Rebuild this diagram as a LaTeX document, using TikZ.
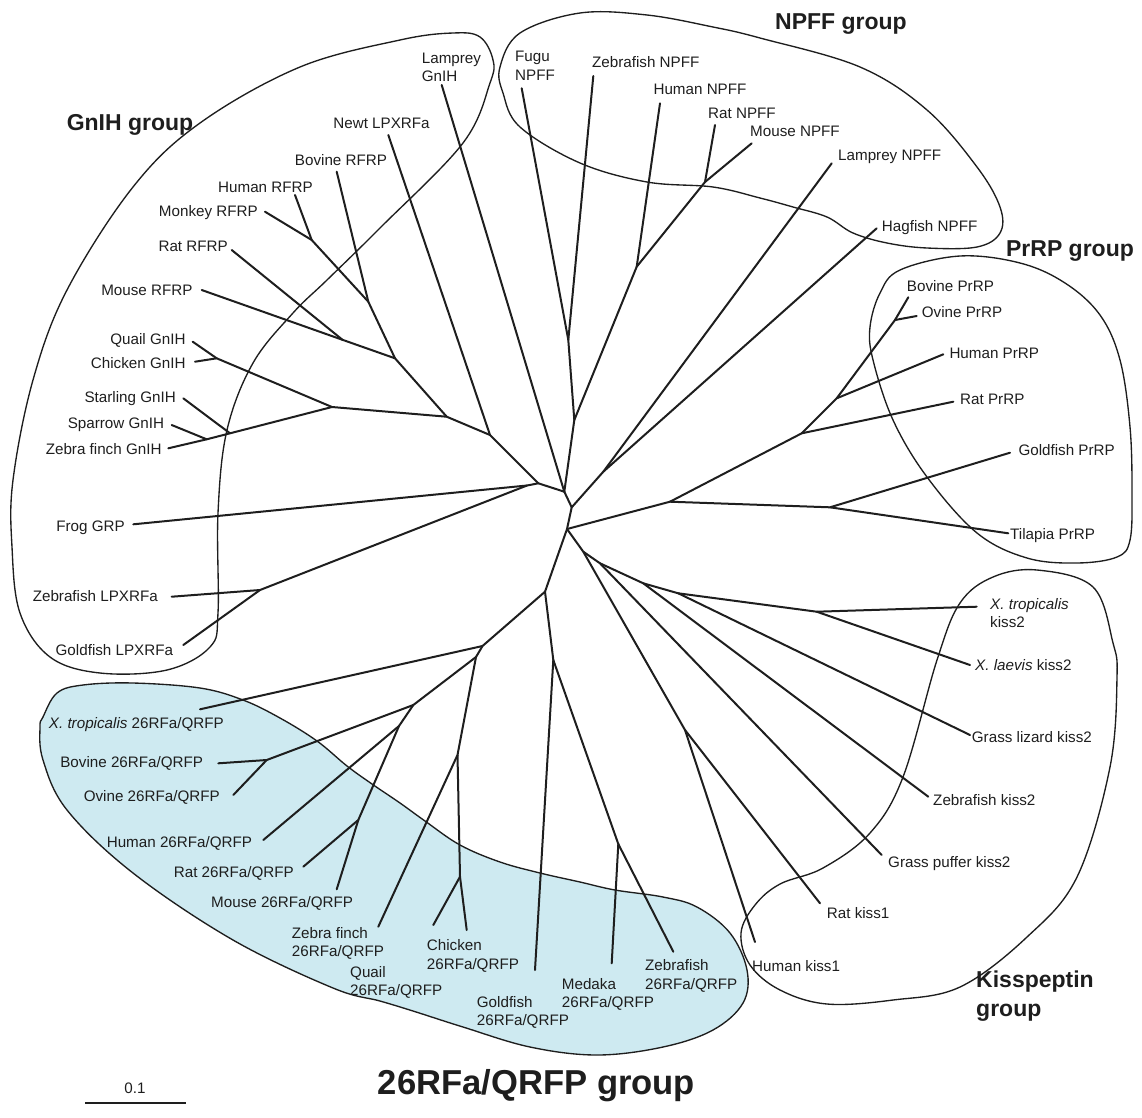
\documentclass[tikz,border=0pt]{standalone}
\usepackage{fontspec}
\setmainfont{Liberation Sans}
\definecolor{blue26}{RGB}{206,234,241}
\definecolor{ink}{RGB}{30,30,30}
\tikzset{
  br/.style={line width=2pt, line cap=round, line join=round, draw=ink},
  grp/.style={line width=1.35pt, draw=ink},
  lab/.style={font=\fontsize{15.2}{18.3}\selectfont, inner sep=0pt, text=ink},
  ttl/.style={font=\fontsize{23}{29}\selectfont\bfseries, inner sep=0pt, text=ink},
}
\begin{document}
\begin{tikzpicture}[x=1pt,y=-1pt]
\useasboundingbox (0,0) rectangle (1142,1117);

% ---------- group outlines ----------
\filldraw[grp, fill=blue26] plot[smooth cycle, tension=0.6] coordinates {
 (43,717) (57,693) (83,685) (133,683) (200,688) (243,700) (280,718) (317,741) (347,766)
 (372,784) (400,803) (425,821) (460,845) (500,862) (540,873) (580,882) (615,890) (663,897)
 (697,907) (730,933) (747,970) (743,1003) (713,1030) (663,1047) (597,1055) (530,1047)
 (463,1027) (413,1011) (380,1001) (333,988) (233,940) (133,873) (67,810) (43,760) (40,727)};

\draw[grp] plot[smooth cycle, tension=0.6] coordinates {
 (400,40) (453,33) (480,37) (493,60) (490,83) (463,143) (380,228) (327,280) (293,313)
 (253,363) (227,430) (218,513) (218,613) (210,647) (167,670) (100,673) (50,657) (20,613)
 (12,547) (13,480) (33,380) (67,290) (133,187) (200,123) (300,67)};

\draw[grp] plot[smooth cycle, tension=0.6] coordinates {
 (500,67) (520,33) (580,13) (647,15) (713,27) (760,38) (860,67) (927,110) (977,167)
 (1000,207) (1000,233) (977,247) (927,248) (887,243) (853,233) (827,217) (793,207)
 (760,198) (713,187) (647,182) (580,163) (520,127) (503,93)};

\draw[grp] plot[smooth cycle, tension=0.6] coordinates {
 (900,270) (960,256) (1020,263) (1065,283) (1100,315) (1120,360) (1130,427) (1132,493)
 (1130,540) (1117,557) (1077,563) (1027,558) (977,533) (927,477) (893,420) (873,360)
 (870,327) (880,293)};

\draw[grp] plot[smooth cycle, tension=0.6] coordinates {
 (1037,570) (1093,587) (1113,643) (1117,677) (1110,767) (1077,877) (1027,937) (960,987)
 (893,1000) (827,1004) (780,990) (750,965) (741,933) (755,905) (780,884) (823,868)
 (870,833) (903,777) (937,660) (960,603) (993,577)};

% ---------- internal nodes ----------
\coordinate (A) at (564.3,491.7);
\coordinate (B) at (538.3,483.3);
\coordinate (C) at (527,485.5);
\coordinate (D) at (490,435);
\coordinate (N2) at (446.7,416.7);
\coordinate (N1) at (395,358.3);
\coordinate (BHM) at (368.3,301.7);
\coordinate (HM) at (311.7,240);
\coordinate (RM) at (342.5,339.8);
\coordinate (BN) at (332,407);
\coordinate (QC) at (216.7,358.3);
\coordinate (SZ) at (230,433.3);
\coordinate (SP) at (206.7,439.3);
\coordinate (LP) at (260,590);
\coordinate (NP1) at (574.3,420);
\coordinate (FZ) at (568.3,340);
\coordinate (HN) at (636.7,266.7);
\coordinate (RMN) at (705,182);
\coordinate (E) at (571.7,507.3);
\coordinate (F) at (603.3,471.7);
\coordinate (G) at (567,529);
\coordinate (L) at (670,501.7);
\coordinate (H) at (801.7,433.3);
\coordinate (I) at (836.7,398.3);
\coordinate (J) at (895,320);
\coordinate (K) at (830,507.3);
\coordinate (M) at (545,591.7);
\coordinate (P) at (482.5,646);
\coordinate (Q) at (476,657);
\coordinate (R) at (413.3,705);
\coordinate (U) at (266.7,760);
\coordinate (V) at (399,726);
\coordinate (W) at (358.3,820);
\coordinate (S) at (457.5,755);
\coordinate (T) at (460,876.7);
\coordinate (N) at (553.3,660);
\coordinate (O) at (618.3,844);
\coordinate (K1) at (583.3,551.7);
\coordinate (KK) at (685,730);
\coordinate (K2) at (600,563.3);
\coordinate (K3) at (643.3,583.3);
\coordinate (K4) at (678.3,593.3);
\coordinate (K5) at (816.7,611.7);

% ---------- leaf ends ----------
\coordinate (humanRFRP) at (295,195);
\coordinate (monkeyRFRP) at (265,211.7);
\coordinate (bovineRFRP) at (336.7,171.7);
\coordinate (ratRFRP) at (231.7,250);
\coordinate (mouseRFRP) at (201.7,290);
\coordinate (quailG) at (192.7,341.7);
\coordinate (chickenG) at (195,361.7);
\coordinate (starlingG) at (183.3,398.3);
\coordinate (sparrowG) at (171.7,425);
\coordinate (zfinchG) at (168.3,448.3);
\coordinate (frog) at (133.3,524.3);
\coordinate (zfishLP) at (171.7,596.7);
\coordinate (gfishLP) at (183.3,645);
\coordinate (newt) at (388.3,135);
\coordinate (lampreyG) at (441.7,85);
\coordinate (fugu) at (521.7,88.3);
\coordinate (zfishNPFF) at (593.3,76);
\coordinate (humanNPFF) at (660,103.3);
\coordinate (ratNPFF) at (715,125);
\coordinate (mouseNPFF) at (751.7,143.3);
\coordinate (lampreyNPFF) at (831.7,163.3);
\coordinate (hagfish) at (876.7,228.3);
\coordinate (bovinePrRP) at (908.3,297.3);
\coordinate (ovinePrRP) at (916.7,316);
\coordinate (humanPrRP) at (943.3,354.3);
\coordinate (ratPrRP) at (953.3,401.7);
\coordinate (goldPrRP) at (1010,452.7);
\coordinate (tilPrRP) at (1008.3,533.3);
\coordinate (xtk) at (976.7,606.7);
\coordinate (xlk) at (970,665);
\coordinate (lizk) at (970,735);
\coordinate (zfk) at (928.3,796.7);
\coordinate (puffk) at (881.7,855);
\coordinate (ratk) at (820,903.3);
\coordinate (humk) at (755,942);
\coordinate (xt26) at (200,709.3);
\coordinate (bov26) at (218.3,763.3);
\coordinate (ovi26) at (233.3,795);
\coordinate (hum26) at (263.3,840);
\coordinate (rat26) at (303.3,866.7);
\coordinate (mou26) at (336.7,889.3);
\coordinate (zf26) at (378.3,926.7);
\coordinate (qua26) at (433.3,925);
\coordinate (chi26) at (466.7,930);
\coordinate (gold26) at (535,970);
\coordinate (med26) at (611.7,963.3);
\coordinate (zfish26) at (673.3,951.7);

% ---------- branches ----------
\draw[br] (humanRFRP) -- (HM);
\draw[br] (monkeyRFRP) -- (HM) -- (BHM);
\draw[br] (bovineRFRP) -- (BHM) -- (N1);
\draw[br] (ratRFRP) -- (RM);
\draw[br] (mouseRFRP) -- (RM) -- (N1) -- (N2);
\draw[br] (quailG) -- (QC);
\draw[br] (chickenG) -- (QC) -- (BN);
\draw[br] (starlingG) -- (SZ);
\draw[br] (sparrowG) -- (SP);
\draw[br] (zfinchG) -- (SP) -- (SZ) -- (BN) -- (N2) -- (D);
\draw[br] (newt) -- (D) -- (B);
\draw[br] (frog) -- (C) -- (B) -- (A);
\draw[br] (zfishLP) -- (LP);
\draw[br] (gfishLP) -- (LP) -- (C);
\draw[br] (lampreyG) -- (A);
\draw[br] (fugu) -- (FZ);
\draw[br] (zfishNPFF) -- (FZ) -- (NP1);
\draw[br] (humanNPFF) -- (HN);
\draw[br] (ratNPFF) -- (RMN);
\draw[br] (mouseNPFF) -- (RMN) -- (HN) -- (NP1) -- (A);
\draw[br] (A) -- (E);
\draw[br] (lampreyNPFF) -- (F);
\draw[br] (hagfish) -- (F) -- (E) -- (G);
\draw[br] (bovinePrRP) -- (J);
\draw[br] (ovinePrRP) -- (J) -- (I);
\draw[br] (humanPrRP) -- (I) -- (H);
\draw[br] (ratPrRP) -- (H) -- (L);
\draw[br] (goldPrRP) -- (K);
\draw[br] (tilPrRP) -- (K) -- (L) -- (G);
\draw[br] (G) -- (M) -- (P) -- (Q);
\draw[br] (P) -- (xt26);
\draw[br] (Q) -- (R) -- (U) -- (bov26);
\draw[br] (U) -- (ovi26);
\draw[br] (R) -- (V) -- (hum26);
\draw[br] (V) -- (W) -- (rat26);
\draw[br] (W) -- (mou26);
\draw[br] (Q) -- (S) -- (zf26);
\draw[br] (S) -- (T) -- (qua26);
\draw[br] (T) -- (chi26);
\draw[br] (M) -- (N) -- (gold26);
\draw[br] (N) -- (O) -- (med26);
\draw[br] (O) -- (zfish26);
\draw[br] (G) -- (K1) -- (KK) -- (humk);
\draw[br] (KK) -- (ratk);
\draw[br] (K1) -- (K2) -- (puffk);
\draw[br] (K2) -- (K3) -- (zfk);
\draw[br] (K3) -- (K4) -- (lizk);
\draw[br] (K4) -- (K5) -- (xtk);
\draw[br] (K5) -- (xlk);

% ---------- labels ----------
\node[lab,anchor=base] (tHumanRFRP) at (265.5,192) {Human RFRP};
\node[lab,anchor=base] (tBovineRFRP) at (341,165) {Bovine RFRP};
\node[lab,anchor=base] (tNewt) at (381.5,128) {Newt LPXRFa};
\node[lab,anchor=north west,align=left] (tLampreyG) at (421.7,52.8) {Lamprey\\GnIH};
\node[lab,anchor=base east] (tMonkeyRFRP) at (258,216) {Monkey RFRP};
\node[lab,anchor=base east] (tRatRFRP) at (228,251) {Rat RFRP};
\node[lab,anchor=base east] (tMouseRFRP) at (192.7,295) {Mouse RFRP};
\node[lab,anchor=base east] (tQuailG) at (185.7,344.5) {Quail GnIH};
\node[lab,anchor=base east] (tChickenG) at (185.7,368) {Chicken GnIH};
\node[lab,anchor=base east] (tStarlingG) at (176,402.5) {Starling GnIH};
\node[lab,anchor=base east] (tSparrowG) at (164.3,428) {Sparrow GnIH};
\node[lab,anchor=base east] (tZfinchG) at (161.7,454.5) {Zebra finch GnIH};
\node[lab,anchor=base east] (tFrog) at (125,531) {Frog GRP};
\node[lab,anchor=base east] (tZfishLP) at (158,601.5) {Zebrafish LPXRFa};
\node[lab,anchor=base east] (tGfishLP) at (173.3,655.5) {Goldfish LPXRFa};

\node[lab,anchor=north west,align=left] (tFugu) at (515,51.2) {Fugu\\NPFF};
\node[lab,anchor=base] (tZfishNPFF) at (645.8,67) {Zebrafish NPFF};
\node[lab,anchor=base] (tHumanNPFF) at (700,94.5) {Human NPFF};
\node[lab,anchor=base] (tRatNPFF) at (742,118.5) {Rat NPFF};
\node[lab,anchor=base] (tMouseNPFF) at (795,136.5) {Mouse NPFF};
\node[lab,anchor=base west] (tLampreyNPFF) at (838,160.5) {Lamprey NPFF};
\node[lab,anchor=base west] (tHagfish) at (881.7,231.5) {Hagfish NPFF};

\node[lab,anchor=base west] (tBovinePrRP) at (906.7,291.5) {Bovine PrRP};
\node[lab,anchor=base west] (tOvinePrRP) at (921.7,317.5) {Ovine PrRP};
\node[lab,anchor=base west] (tHumanPrRP) at (949.3,358.5) {Human PrRP};
\node[lab,anchor=base west] (tRatPrRP) at (960,404.5) {Rat PrRP};
\node[lab,anchor=base west] (tGoldPrRP) at (1018.3,455.5) {Goldfish PrRP};
\node[lab,anchor=base west] (tTilPrRP) at (1010,539.5) {Tilapia PrRP};

\node[lab,anchor=north west,align=left] (tXtk) at (990,597.8) {\textit{X. tropicalis}\\kiss2};
\node[lab,anchor=base west] (tXlk) at (975,670.5) {\textit{X. laevis} kiss2};
\node[lab,anchor=base west] (tLizk) at (971.7,742) {Grass lizard kiss2};
\node[lab,anchor=base west] (tZfk) at (933,805.5) {Zebrafish kiss2};
\node[lab,anchor=base west] (tPuffk) at (888,867.5) {Grass puffer kiss2};
\node[lab,anchor=base west] (tRatk) at (826.7,918.5) {Rat kiss1};
\node[lab,anchor=base west] (tHumk) at (752,971.5) {Human kiss1};

\node[lab,anchor=base east] (tXt26) at (224,728.5) {\textit{X. tropicalis} 26RFa/QRFP};
\node[lab,anchor=base east] (tBov26) at (203.3,767.5) {Bovine 26RFa/QRFP};
\node[lab,anchor=base east] (tOvi26) at (220,801.5) {Ovine 26RFa/QRFP};
\node[lab,anchor=base east] (tHum26) at (252.3,847) {Human 26RFa/QRFP};
\node[lab,anchor=base east] (tRat26) at (294,877) {Rat 26RFa/QRFP};
\node[lab,anchor=base east] (tMou26) at (353.3,907) {Mouse 26RFa/QRFP};
\node[lab,anchor=north west,align=left] (tZf26) at (291.7,927.2) {Zebra finch\\26RFa/QRFP};
\node[lab,anchor=north west,align=left] (tQua26) at (350,966.2) {Quail\\26RFa/QRFP};
\node[lab,anchor=north west,align=left] (tChi26) at (426.7,939.5) {Chicken\\26RFa/QRFP};
\node[lab,anchor=north west,align=left] (tGold26) at (476.7,996.2) {Goldfish\\26RFa/QRFP};
\node[lab,anchor=north west,align=left] (tMed26) at (561.7,977.8) {Medaka\\26RFa/QRFP};
\node[lab,anchor=north west,align=left] (tZfish26) at (645,959.5) {Zebrafish\\26RFa/QRFP};

% ---------- group titles ----------
\node[ttl,anchor=base] (gGnIH) at (130,130) {GnIH group};
\node[ttl,anchor=base] (gNPFF) at (841,29.7) {NPFF group};
\node[ttl,anchor=base] (gPrRP) at (1070,256.3) {PrRP group};
\node[ttl,anchor=north west,align=left] (gKiss) at (976,970.5) {Kisspeptin\\group};
\node[ttl,anchor=base,font=\fontsize{34.6}{40}\selectfont\bfseries] (g26) at (536.5,1094) {26RFa/QRFP group};

% ---------- scale bar ----------
\coordinate (sbL) at (85,1103);
\coordinate (sbR) at (186,1103);
\draw[line width=2pt, draw=ink] (sbL) -- (sbR);
\node[lab,anchor=base] (tScale) at (135,1093) {0.1};
\end{tikzpicture}
\end{document}
